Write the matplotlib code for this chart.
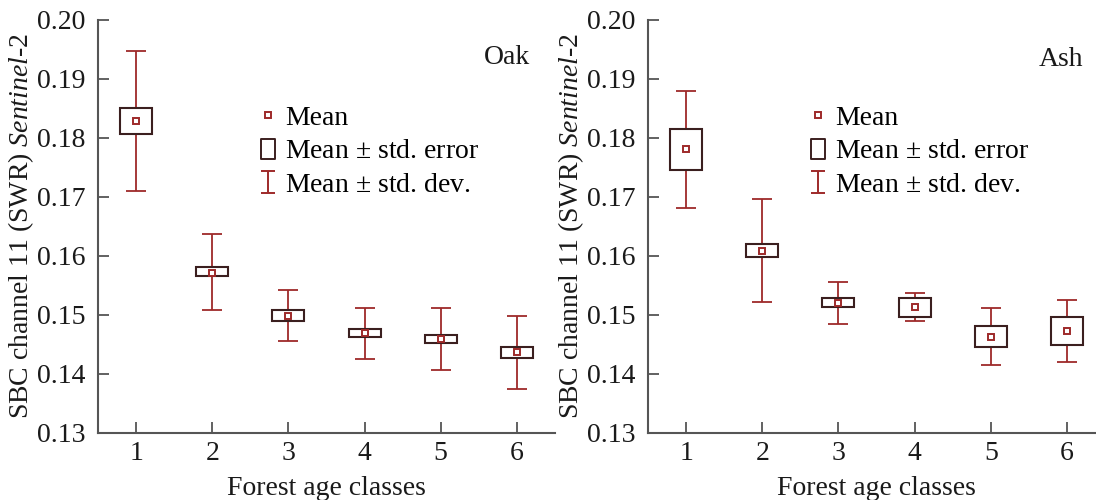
import matplotlib
matplotlib.use("Agg")
import matplotlib.pyplot as plt
from matplotlib.patches import Rectangle
from matplotlib.lines import Line2D
from matplotlib.path import Path
import numpy as np

plt.rcParams['font.family'] = ['Liberation Serif', 'DejaVu Serif']
plt.rcParams['mathtext.fontset'] = 'custom'
plt.rcParams['mathtext.rm'] = 'Liberation Serif'
plt.rcParams['mathtext.it'] = 'Liberation Serif:italic'

classes = [1, 2, 3, 4, 5, 6]

oak_mean = [0.1829, 0.1572, 0.1498, 0.1469, 0.1459, 0.1437]
oak_se_lo = [0.1807, 0.1566, 0.1490, 0.1463, 0.1453, 0.1427]
oak_se_hi = [0.1850, 0.1581, 0.1508, 0.1476, 0.1466, 0.1446]
oak_sd_lo = [0.1711, 0.1508, 0.1456, 0.1426, 0.1407, 0.1375]
oak_sd_hi = [0.1947, 0.1638, 0.1542, 0.1512, 0.1512, 0.1498]

ash_mean = [0.1782, 0.1609, 0.1520, 0.1513, 0.1463, 0.1473]
ash_se_lo = [0.1746, 0.1598, 0.1513, 0.1496, 0.1445, 0.1450]
ash_se_hi = [0.1816, 0.1621, 0.1528, 0.1529, 0.1482, 0.1497]
ash_sd_lo = [0.1681, 0.1522, 0.1485, 0.1490, 0.1415, 0.1421]
ash_sd_hi = [0.1880, 0.1696, 0.1556, 0.1537, 0.1512, 0.1525]

yticks = [0.13, 0.14, 0.15, 0.16, 0.17, 0.18, 0.19, 0.20]
ytick_labels = ['0.13', '0.14', '0.15', '0.16', '0.17', '0.18', '0.19', '0.20']

RED = '#9e2a2a'
BOX = '#3b1f1f'
SPINE = '#555555'
TXT = '#1a1a1a'
FS = 20

fig = plt.figure(figsize=(10.96, 5.0), dpi=100)
W, H = 1096, 500
ax1 = fig.add_axes([98 / W, 67 / H, 457 / W, 413 / H])
ax2 = fig.add_axes([648 / W, 67 / H, 457 / W, 413 / H])

ibeam = Path([(-0.3, -0.5), (0.3, -0.5), (0, -0.5), (0, 0.5), (-0.3, 0.5), (0.3, 0.5)],
             [Path.MOVETO, Path.LINETO, Path.MOVETO, Path.LINETO, Path.MOVETO, Path.LINETO])
rect = Path([(-0.33, -0.5), (0.33, -0.5), (0.33, 0.5), (-0.33, 0.5), (-0.33, -0.5)],
            [Path.MOVETO, Path.LINETO, Path.LINETO, Path.LINETO, Path.CLOSEPOLY])


def panel(ax, mean, se_lo, se_hi, sd_lo, sd_hi, name, name_xy, leg_x):
    x = np.array(classes, dtype=float)
    mean = np.array(mean)
    yerr = [mean - np.array(sd_lo), np.array(sd_hi) - mean]
    ax.errorbar(x, mean, yerr=yerr, fmt='none', ecolor=RED, elinewidth=1.3,
                capsize=7.5, capthick=1.3, zorder=2)
    bw = 0.42
    for xi, lo, hi in zip(x, se_lo, se_hi):
        ax.add_patch(Rectangle((xi - bw / 2, lo), bw, hi - lo, facecolor='white',
                               edgecolor=BOX, linewidth=1.5, zorder=3))
    ax.plot(x, mean, ls='none', marker='s', markersize=5, mfc='white', mec=RED,
            mew=1.4, zorder=4)
    ax.set_xlim(0.5, 6.5)
    ax.set_ylim(0.13, 0.20)
    ax.set_xticks(classes)
    ax.set_xticklabels([str(c) for c in classes])
    ax.set_yticks(yticks)
    ax.set_yticklabels(ytick_labels)
    for s in ['top', 'right']:
        ax.spines[s].set_visible(False)
    for s in ['left', 'bottom']:
        ax.spines[s].set_color(SPINE)
        ax.spines[s].set_linewidth(1.5)
    ax.tick_params(direction='in', length=8, width=1.3, color=SPINE,
                   labelsize=FS, labelcolor=TXT)
    ax.tick_params(axis='y', pad=9)
    ax.tick_params(axis='x', pad=6)
    ax.set_xlabel('Forest age classes', fontsize=FS, color=TXT, labelpad=7)
    ax.set_ylabel(r'SBC channel 11 (SWR) $\it{Sentinel}$-2', fontsize=FS,
                  color=TXT, labelpad=1)
    ax.text(name_xy[0], name_xy[1], name, transform=ax.transAxes, fontsize=FS,
            color=TXT, ha='left', va='center')
    handles = [
        Line2D([], [], ls='none', marker='s', markersize=5, mfc='white', mec=RED, mew=1.4),
        Line2D([], [], ls='none', marker=rect, markersize=15, mfc='white', mec=BOX, mew=1.4),
        Line2D([], [], ls='none', marker=ibeam, markersize=16, mfc='none', mec=RED, mew=1.4),
    ]
    labels = ['Mean', r'Mean $\pm$ std. error', r'Mean $\pm$ std. dev.']
    ax.legend(handles, labels, loc='upper left', bbox_to_anchor=(leg_x, 0.794),
              frameon=False, fontsize=FS, handlelength=0.5, handletextpad=0.36,
              labelspacing=0.3, borderpad=0, borderaxespad=0)


panel(ax1, oak_mean, oak_se_lo, oak_se_hi, oak_sd_lo, oak_sd_hi, 'Oak', (0.845, 0.91), 0.357)
panel(ax2, ash_mean, ash_se_lo, ash_se_hi, ash_sd_lo, ash_sd_hi, 'Ash', (0.855, 0.905), 0.357)

fig.savefig('out.png', dpi=100)
